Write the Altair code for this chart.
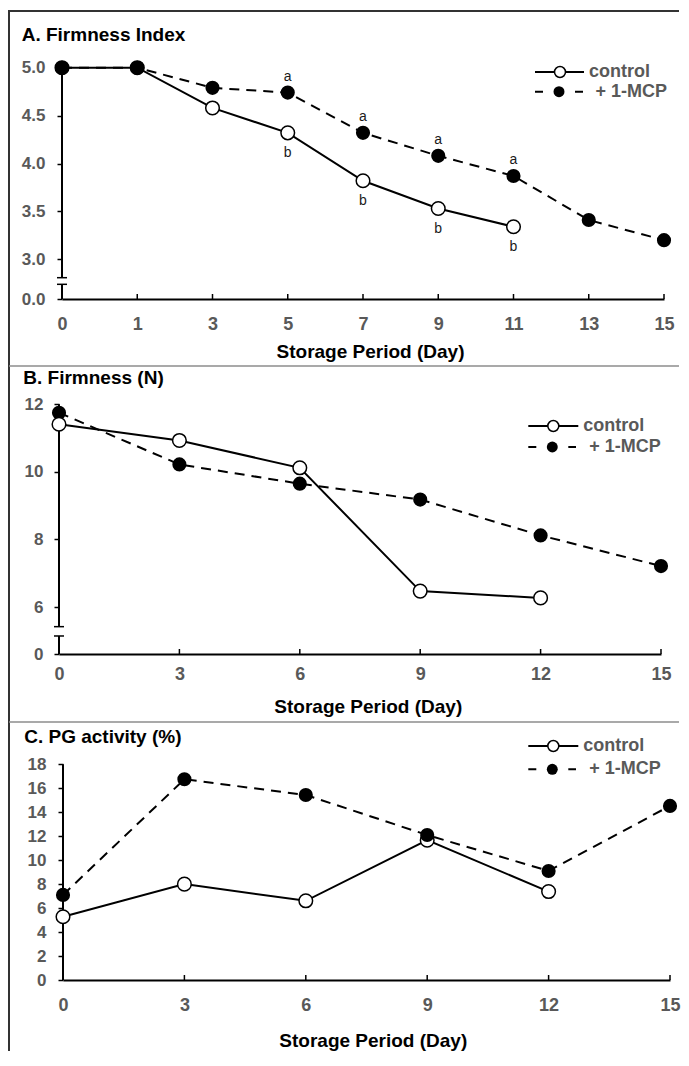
import altair as alt
import pandas as pd

FONT = "Liberation Sans"
GRAY = "#595959"
DARK = "#333333"
SEP = "#8c8c8c"
SERIES = ["control", "+ 1-MCP"]
XTITLE = "Storage Period (Day)"

# ---------------- data ----------------
A_title = "A. Firmness Index"
A_days = ["0", "1", "3", "5", "7", "9", "11", "13", "15"]
A_control = [5.0, 5.0, 4.58, 4.32, 3.82, 3.53, 3.34, None, None]
A_mcp = [5.0, 5.0, 4.79, 4.74, 4.32, 4.08, 3.87, 3.41, 3.20]
A_letter_mcp = [None, None, None, "a", "a", "a", "a", None, None]
A_letter_ctrl = [None, None, None, "b", "b", "b", "b", None, None]
A_yticks = [0.0, 3.0, 3.5, 4.0, 4.5, 5.0]

B_title = "B. Firmness (N)"
B_days = [0, 3, 6, 9, 12, 15]
B_control = [11.41, 10.93, 10.12, 6.47, 6.27, None]
B_mcp = [11.75, 10.22, 9.65, 9.18, 8.12, 7.21]
B_yticks = [0, 6, 8, 10, 12]

C_title = "C. PG activity (%)"
C_days = [0, 3, 6, 9, 12, 15]
C_control = [5.28, 8.0, 6.61, 11.67, 7.38, None]
C_mcp = [7.1, 16.75, 15.44, 12.1, 9.1, 14.53]
C_yticks = [0, 2, 4, 6, 8, 10, 12, 14, 16, 18]


def long_df(days, ctrl, mcp):
    rows = []
    for i, d in enumerate(days):
        for s, vals in zip(SERIES, (ctrl, mcp)):
            if vals[i] is not None:
                rows.append({"day": d, "idx": i, "value": vals[i], "series": s})
    return pd.DataFrame(rows)


def letters_df(days, vals, letters):
    rows = []
    for i, d in enumerate(days):
        if letters[i] and vals[i] is not None:
            rows.append({"day": d, "value": vals[i], "letter": letters[i]})
    return pd.DataFrame(rows)


def k1():
    return pd.DataFrame({"k": [0]})


def hrule(x1, x2, y, color, width, dash=None):
    kw = dict(color=color, strokeWidth=width)
    if dash:
        kw["strokeDash"] = dash
    return alt.Chart(k1()).mark_rule(**kw).encode(
        x=alt.value(x1), x2=alt.value(x2), y=alt.value(y))


def vrule(x, y1, y2, color, width):
    return alt.Chart(k1()).mark_rule(color=color, strokeWidth=width).encode(
        x=alt.value(x), y=alt.value(y1), y2=alt.value(y2))


def text(t, x, y, size, color, weight="bold", baseline="alphabetic"):
    return alt.Chart(pd.DataFrame({"t": [t]})).mark_text(
        align="left", baseline=baseline, font=FONT, fontSize=size,
        fontWeight=weight, color=color
    ).encode(x=alt.value(x), y=alt.value(y), text="t:N")


def legend(lx0, lx1, cxc, txc, yc, dx0, dx1, dash, cxm, txm, ym):
    return [
        hrule(lx0, lx1, yc, "black", 2),
        alt.Chart(k1()).mark_circle(size=120, color="white", stroke="black",
                                    strokeWidth=1.5, opacity=1).encode(
            x=alt.value(cxc), y=alt.value(yc)),
        text(SERIES[0], txc, yc, 18, GRAY, baseline="middle"),
        hrule(dx0, dx1, ym, "black", 2, dash),
        alt.Chart(k1()).mark_circle(size=120, color="black", opacity=1).encode(
            x=alt.value(cxm), y=alt.value(ym)),
        text(SERIES[1], txm, ym, 18, GRAY, baseline="middle"),
    ]


def xaxis(tx, ty, lp, values=None, fmt=None):
    kw = dict(title=XTITLE, titleX=tx, titleY=ty, titleAlign="center",
              titleBaseline="alphabetic", titleFont=FONT, titleFontSize=19,
              titleFontWeight="bold", titleColor="black", labelFont=FONT,
              labelFontSize=18, labelFontWeight="bold", labelColor=GRAY,
              labelBaseline="alphabetic", labelPadding=lp, labelAngle=0,
              labelFlush=False, labelOverlap=False, ticks=False, domain=True,
              domainColor="black", domainWidth=2, grid=False)
    if values is not None:
        kw["values"] = values
    if fmt:
        kw["format"] = fmt
    return alt.Axis(**kw)


def yaxis(values, fmt, offset, lp):
    return alt.Axis(values=values, format=fmt, title=None, domain=False,
                    ticks=True, tickSize=5, tickWidth=1.5, tickColor="black",
                    labelPadding=lp, labelFont=FONT, labelFontSize=17,
                    labelFontWeight="bold", labelColor=GRAY, labelFlush=False,
                    labelOverlap=False, grid=False, offset=offset)


def panel(days, ctrl, mcp, xtype, sx, sy, xax, yax, H, ax_x, segs, breaks,
          top_series, extra):
    df = long_df(days, ctrl, mcp)
    xf = "day:" + xtype

    # every layer carries the same scale and axis definition so they merge cleanly
    def X():
        return alt.X(xf, scale=sx, axis=xax)

    def Y(field):
        return alt.Y(field, scale=sy, axis=yax)

    layers = []
    # y axis line (with break)
    seg_df = pd.DataFrame({"day": [days[0]] * len(segs),
                           "y1": [s[0] for s in segs],
                           "y2": [s[1] for s in segs]})
    layers.append(alt.Chart(seg_df).mark_rule(color="black", strokeWidth=2).encode(
        x=X(), y=Y("y1:Q"), y2="y2:Q"))
    if breaks:
        brk_df = pd.DataFrame({"yb": breaks})
        layers.append(alt.Chart(brk_df).mark_rule(color="black", strokeWidth=1.5).encode(
            x=alt.value(ax_x - 5), x2=alt.value(ax_x + 5), y=Y("yb:Q")))
    # inward x ticks
    layers.append(alt.Chart(pd.DataFrame({"day": days[1:]})).mark_rule(
        color="black", strokeWidth=1.5).encode(
        x=X(), y=alt.value(H - 5), y2=alt.value(H)))

    ctrl_df = df[df.series == SERIES[0]]
    mcp_df = df[df.series == SERIES[1]]
    ctrl_line = alt.Chart(ctrl_df).mark_line(color="black", strokeWidth=2).encode(
        x=X(), y=Y("value:Q"), order="idx:Q")
    mcp_line = alt.Chart(mcp_df).mark_line(color="black", strokeWidth=2,
                                           strokeDash=[10, 7]).encode(
        x=X(), y=Y("value:Q"), order="idx:Q")
    ctrl_pts = alt.Chart(ctrl_df).mark_circle(size=185, color="white", stroke="black",
                                              strokeWidth=1.5, opacity=1).encode(
        x=X(), y=Y("value:Q"))
    mcp_pts = alt.Chart(mcp_df).mark_circle(size=200, color="black", opacity=1).encode(
        x=X(), y=Y("value:Q"))
    if top_series == SERIES[1]:
        layers += [ctrl_line, mcp_line, ctrl_pts, mcp_pts]
    else:
        layers += [mcp_line, ctrl_line, mcp_pts, ctrl_pts]
    layers += extra(X, Y)
    return layers


# ---------------- Panel A ----------------
HA = 248
sxA = alt.Scale(type="point", domain=A_days, range=[3, 605], padding=0)
syA = alt.Scale(domain=[0, 3, 5], range=[HA, 208.3, 16.7], nice=False, zero=False)


def extraA(X, Y):
    la = letters_df(A_days, A_mcp, A_letter_mcp)
    lb = letters_df(A_days, A_control, A_letter_ctrl)
    txt = dict(font=FONT, fontSize=14, color="#1a1a1a", baseline="middle", align="center")
    out = [
        alt.Chart(la).mark_text(dy=-16, **txt).encode(x=X(), y=Y("value:Q"), text="letter:N"),
        alt.Chart(lb).mark_text(dy=20, **txt).encode(x=X(), y=Y("value:Q"), text="letter:N"),
    ]
    out += legend(476, 525, 501, 530, 21, 476, 524, [8, 32], 500, 536.5, 40.7)
    out += [text(A_title, -37.3, -10, 19, "black")]
    out += [hrule(-50, 620, -40, DARK, 2), vrule(-50, -41, 1000, DARK, 2)]
    return out


layersA = panel(A_days, A_control, A_mcp, "O", sxA, syA,
                xaxis(311, 58, 30), yaxis(A_yticks, ".1f", -3, 12), HA, 3,
                [(5.0, 1.61), (1.11, 0.0)], [1.61, 1.11], SERIES[1], extraA)
chartA = alt.layer(*layersA).properties(width=612, height=HA)

# ---------------- Panel B ----------------
HB = 263
sxB = alt.Scale(domain=[0, 15], range=[0, 602], nice=False, zero=False)
syB = alt.Scale(domain=[0, 6, 12], range=[HB, 216, 13.3], nice=False, zero=False)


def extraB(X, Y):
    out = legend(469.3, 519.3, 494.3, 524.3, 35, 469.3, 517, [8, 32], 493.3, 530.3, 56)
    out += [text(B_title, -35.7, -6.7, 19, "black")]
    out += [hrule(-50, 620, -25, SEP, 1.5), hrule(-50, 620, 331, SEP, 1.5)]
    return out


layersB = panel(B_days, B_control, B_mcp, "Q", sxB, syB,
                xaxis(308.8, 58.7, 25.6, B_days, "d"), yaxis(B_yticks, "d", 0, 11), HB, 0,
                [(12, 3.49), (2.30, 0)], [3.49, 2.30], SERIES[0], extraB)
chartB = alt.layer(*layersB).properties(width=612, height=HB)

# ---------------- Panel C ----------------
HC = 234
sxC = alt.Scale(domain=[0, 15], range=[4, 611], nice=False, zero=False)
syC = alt.Scale(domain=[0, 18], range=[HC, 18.3], nice=False, zero=False)


def extraC(X, Y):
    out = legend(469.3, 519.3, 494.3, 524.3, 0, 469.3, 517, [8, 32], 493.3, 530.3, 23.3)
    out += [text(C_title, -34.8, -3.3, 19, "black")]
    return out


layersC = panel(C_days, C_control, C_mcp, "Q", sxC, syC,
                xaxis(313.8, 66, 30, C_days, "d"), yaxis(C_yticks, "d", -4, 12), HC, 4,
                [(18, 0)], [], SERIES[1], extraC)
chartC = alt.layer(*layersC).properties(width=612, height=HC)

chart = alt.vconcat(chartA, chartB, chartC, spacing=92, bounds="flush").properties(
    padding={"top": 1, "left": 0, "right": 0, "bottom": 0}
).configure(font=FONT).configure_view(strokeWidth=0)

chart.save("out.html", embed_options={"renderer": "svg", "actions": False})
